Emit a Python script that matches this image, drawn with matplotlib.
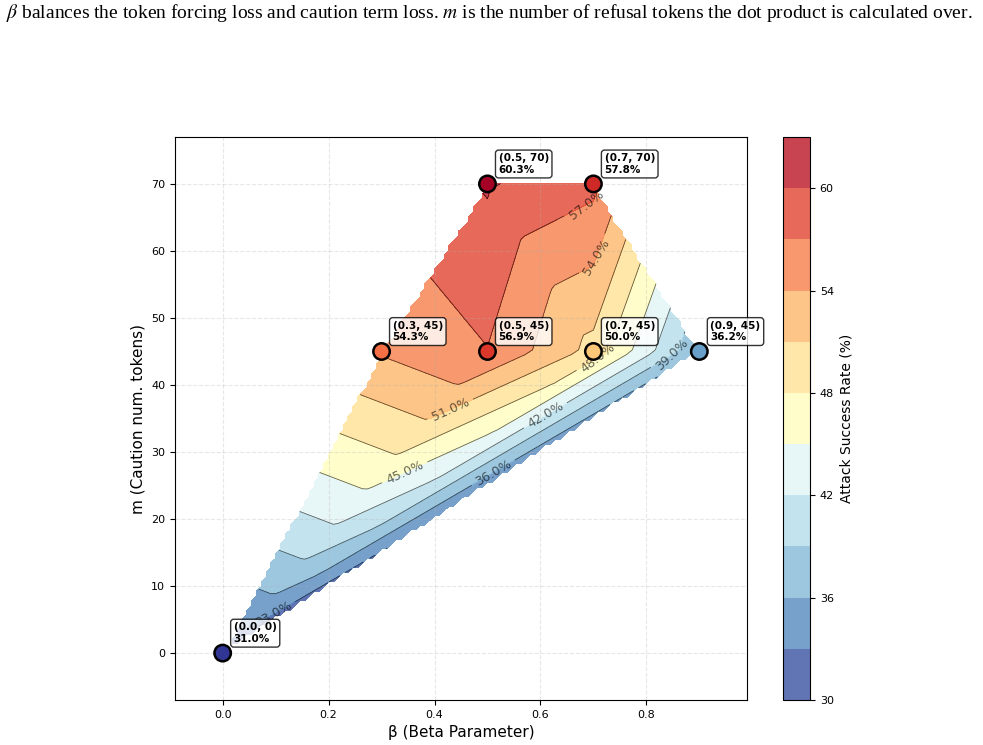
import numpy as np
import matplotlib
matplotlib.use("Agg")
import matplotlib.pyplot as plt
import matplotlib.tri as mtri

# measured (beta, m) -> attack success rate
betas = [0.0, 0.3, 0.5, 0.7, 0.9, 0.5, 0.7]
ms = [0, 45, 45, 45, 45, 70, 70]
asr = [31.0, 54.3, 56.9, 50.0, 36.2, 60.3, 57.8]

# triangulation of the points above (indices)
triangles = [[0, 1, 2], [0, 2, 3], [0, 3, 4], [1, 2, 5], [2, 3, 5], [3, 6, 5], [3, 4, 6]]

levels = np.arange(30, 64, 3)
caption = (r"$\beta$ balances the token forcing loss and caution term loss. "
           r"$m$ is the number of refusal tokens the dot product is calculated over.")

# where the contour labels sit in the original
label_spots = [(0.094, 6.1), (0.511, 26.9), (0.855, 43.7), (0.609, 35.5), (0.342, 27.3),
               (0.708, 44.2), (0.43, 36.3), (0.708, 59.0), (0.685, 67.2)]

plt.rcParams['mathtext.fontset'] = 'stix'

fig = plt.figure(figsize=(9.83, 7.45), dpi=100)
ax = fig.add_axes([175 / 983, 45 / 745, 572 / 983, 563 / 745])
cax = fig.add_axes([783 / 983, 45 / 745, 27 / 983, 563 / 745])

fig.text(0.006, 0.982, caption, fontsize=14, family='Liberation Serif', va='center', ha='left')

x = np.array(betas)
y = np.array(ms, dtype=float)
z = np.array(asr)

# linear interpolation over the convex hull
tri = mtri.Triangulation(x, y, triangles=triangles)
interp = mtri.LinearTriInterpolator(tri, z)
xi = np.linspace(x.min(), x.max(), 100)
yi = np.linspace(y.min(), y.max(), 100)
X, Y = np.meshgrid(xi, yi)
Z = interp(X, Y)

xr = x.max() - x.min()
yr = y.max() - y.min()
ax.set_xlim(x.min() - 0.1 * xr, x.max() + 0.1 * xr)
ax.set_ylim(y.min() - 0.1 * yr, y.max() + 0.1 * yr)

cf = ax.contourf(X, Y, Z, levels=levels, cmap='RdYlBu_r', alpha=0.8)
cs = ax.contour(X, Y, Z, levels=levels, colors='black', linewidths=0.6, alpha=0.6)
ax.clabel(cs, inline=True, fontsize=9, fmt='%.1f%%', manual=label_spots)

ax.scatter(x, y, c=z, cmap='RdYlBu_r', s=140, edgecolors='black', linewidths=1.8, zorder=5)

for b, m, v in zip(betas, ms, asr):
    ax.annotate(f"({b}, {m})\n{v}%", (b, m), xytext=(8, 8), textcoords='offset points',
                fontsize=7.5, fontweight='bold',
                bbox=dict(boxstyle='round,pad=0.3', fc='white', ec='black', alpha=0.8),
                zorder=6)

ax.set_xlabel('β (Beta Parameter)', fontsize=11)
ax.set_ylabel('m (Caution num. tokens)', fontsize=11)
ax.tick_params(labelsize=8)
ax.grid(True, linestyle='--', alpha=0.3)

cb = fig.colorbar(cf, cax=cax)
cb.set_label('Attack Success Rate (%)', fontsize=10)
cb.ax.tick_params(labelsize=8)

fig.savefig('out.png', dpi=100)
